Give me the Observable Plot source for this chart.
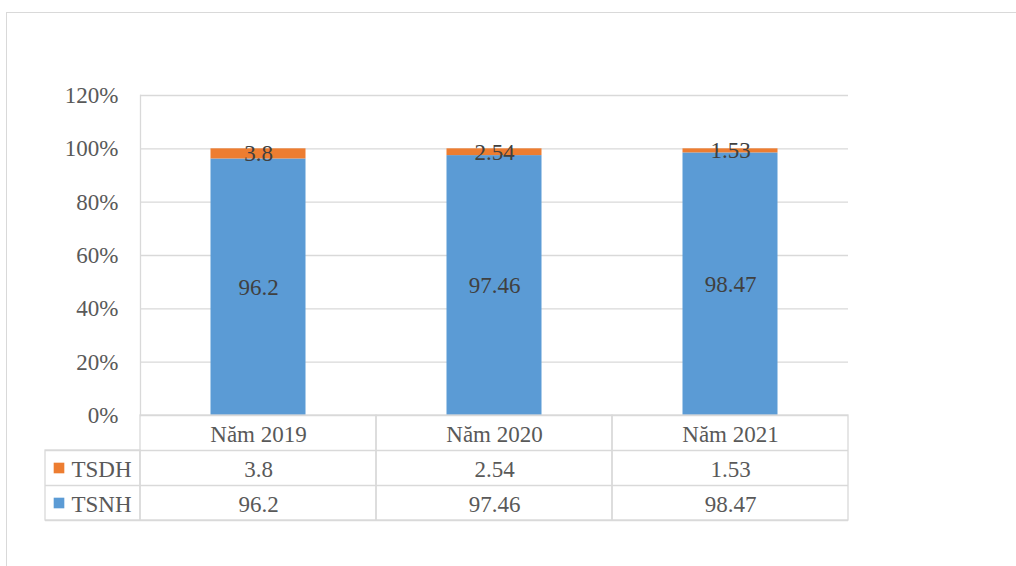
<!DOCTYPE html>
<html><head><meta charset="utf-8">
<script src="https://cdn.jsdelivr.net/npm/d3@7"></script>
<script src="https://cdn.jsdelivr.net/npm/@observablehq/plot@0.6"></script>
<style>
body{margin:0;background:#fff;}
#wrap{position:relative;width:1016px;height:566px;overflow:hidden;background:#fff;}
#border{position:absolute;left:6px;top:12px;width:1100px;height:600px;border:1px solid #d9d9d9;box-sizing:border-box;}
#chart{position:absolute;left:0;top:0;}
</style></head>
<body><div id="wrap"><div id="border"></div><div id="chart"></div></div>
<script>
const years = ["Năm 2019", "Năm 2020", "Năm 2021"];
const seriesNames = ["TSNH", "TSDH"];
const tsnh = [96.2, 97.46, 98.47];
const tsdh = [3.8, 2.54, 1.53];
const yTicks = [0, 20, 40, 60, 80, 100, 120];
const colors = ["#5b9bd5", "#ed7d31"];

const W = 1016, H = 566;
const mL = 140, mR = 168, mT = 95, mB = 151;
const yMax = 120;
const unitPerPx = yMax / (H - mT - mB);
const rowH = 35 * unitPerPx;            // table row height in y units
const grid = "#d9d9d9";
const fs = 23;

const bars = years.flatMap((yr, i) => [
  {year: yr, series: "TSNH", value: tsnh[i]},
  {year: yr, series: "TSDH", value: tsdh[i]}
]);

// table cells: row 0 = header, row 1 = TSDH, row 2 = TSNH
const cells = years.flatMap((yr, i) => [
  {year: yr, row: 0, text: yr},
  {year: yr, row: 1, text: String(tsdh[i])},
  {year: yr, row: 2, text: String(tsnh[i])}
]);
const legendRows = [
  {row: 1, name: "TSDH", color: colors[1]},
  {row: 2, name: "TSNH", color: colors[0]}
];

const band = (W - mL - mR) / years.length;

const chart = Plot.plot({
  width: W, height: H,
  marginLeft: mL, marginRight: mR, marginTop: mT, marginBottom: mB,
  style: {fontFamily: "'Liberation Serif', 'Times New Roman', serif", fontSize: fs + "px", color: "#595959", background: "transparent"},
  x: {domain: years, padding: 0, axis: null},
  y: {domain: [0, yMax], axis: null},
  color: {domain: seriesNames, range: colors},
  marks: [
    Plot.ruleY(yTicks, {stroke: grid, strokeWidth: 1.3}),
    Plot.axisY({ticks: yTicks, tickFormat: d => d + "%", tickSize: 0, tickPadding: 22, fontSize: fs, label: null}),
    Plot.barY(bars, {x: "year", y: "value", fill: "series", insetLeft: 70.5, insetRight: 70.5}),
    Plot.text(bars, Plot.stackY({x: "year", y: "value", z: "series", text: d => String(d.value), fill: "#404040", fontSize: fs})),
    // data table
    Plot.frame({anchor: "left", stroke: grid, strokeWidth: 1.3}),
    Plot.rect(years, {x: d => d, y1: -3 * rowH, y2: 0, stroke: grid, strokeWidth: 1.3, fill: "none"}),
    Plot.ruleY([-rowH, -2 * rowH, -3 * rowH], {stroke: grid, strokeWidth: 1.3, insetLeft: -95}),
    Plot.rect([years[0]], {x: d => d, y1: -3 * rowH, y2: -rowH, insetRight: band - 95, dx: -95, stroke: grid, strokeWidth: 1.3, fill: "none"}),
    Plot.text(cells, {x: "year", y: d => -(d.row + 0.5) * rowH, text: "text", dy: 2, fontSize: fs, fill: "#595959"}),
    Plot.dot(legendRows, {y: d => -(d.row + 0.5) * rowH, frameAnchor: "left", dx: -81.5, symbol: "square", r: 6, fill: "color", stroke: "none"}),
    Plot.text(legendRows, {y: d => -(d.row + 0.5) * rowH, frameAnchor: "left", dx: -69, textAnchor: "start", text: "name", dy: 2, fontSize: fs, fill: "#595959"})
  ]
});
document.getElementById("chart").append(chart);
</script>
</body></html>
